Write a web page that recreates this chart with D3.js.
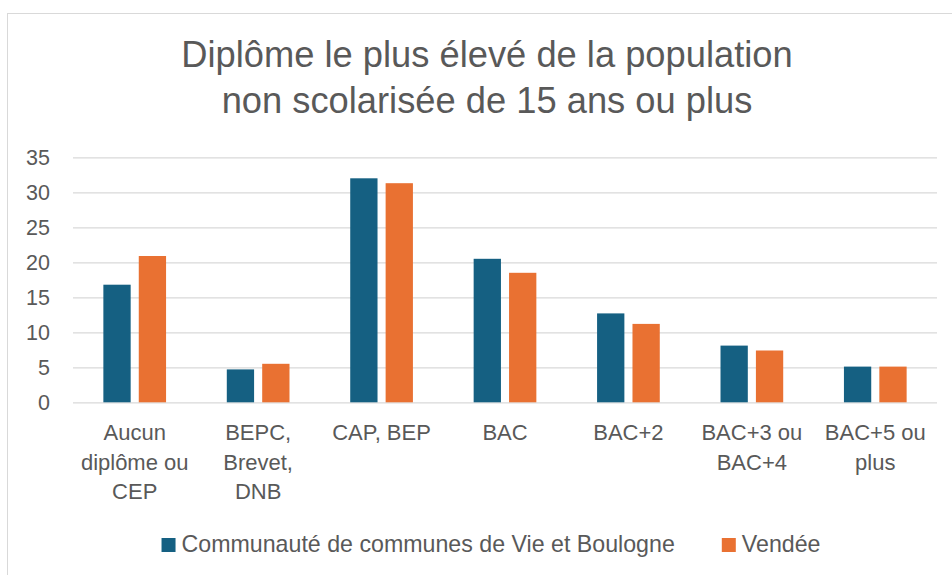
<!DOCTYPE html>
<html><head><meta charset="utf-8">
<script src="https://cdn.jsdelivr.net/npm/d3@7"></script>
<style>
html,body{margin:0;padding:0;background:#fff;}
svg{display:block;font-family:"Liberation Sans",Arial,sans-serif;}
</style></head>
<body><svg id="c" width="952" height="575"></svg>
<script>
const titleLines = ["Diplôme le plus élevé de la population", "non scolarisée de 15 ans ou plus"];
const categories = ["Aucun diplôme ou CEP", "BEPC, Brevet, DNB", "CAP, BEP", "BAC", "BAC+2", "BAC+3 ou BAC+4", "BAC+5 ou plus"];
const seriesNames = ["Communauté de communes de Vie et Boulogne", "Vendée"];
const valuesCC = [16.8, 4.7, 32.0, 20.5, 12.7, 8.1, 5.1];
const valuesVendee = [20.9, 5.5, 31.3, 18.5, 11.2, 7.4, 5.1];
const yTicks = [0, 5, 10, 15, 20, 25, 30, 35];
const colors = ["#156082", "#E97132"];

const svg = d3.select("#c");
const textColor = "#595959";

// chart border
svg.append("rect").attr("x", 7.5).attr("y", 13.5).attr("width", 960).attr("height", 600)
  .attr("fill", "#fff").attr("stroke", "#d9d9d9").attr("stroke-width", 1);

// title
svg.append("g").selectAll("text").data(titleLines).join("text")
  .attr("x", 487).attr("y", (d, i) => 67.3 + i * 45.3)
  .attr("text-anchor", "middle").attr("fill", textColor)
  .style("font-size", "36.3px").text(d => d);

const x0 = d3.scaleBand().domain(categories).range([73, 937]).paddingInner(0).paddingOuter(0);
const groupW = 62.7;
const x1 = d3.scaleBand().domain([0, 1]).range([0, groupW]).paddingInner(0.229).paddingOuter(0);
const y = d3.scaleLinear().domain([0, 35]).range([402.3, 157.3]);

// gridlines
const yAxis = d3.axisLeft(y).tickValues(yTicks).tickSize(-(937 - 73)).tickFormat(d3.format("d"));
const ga = svg.append("g").attr("transform", "translate(73,0)").call(yAxis);
ga.select(".domain").remove();
ga.selectAll(".tick line").attr("stroke", "#d9d9d9").attr("stroke-width", 1.3);
ga.selectAll(".tick text").attr("x", -23).attr("fill", textColor)
  .style("font-size", "21.5px").style("font-family", "Liberation Sans, Arial, sans-serif");

// bars
const data = categories.map((c, i) => ({c, v: [valuesCC[i], valuesVendee[i]]}));
const groups = svg.append("g").selectAll("g").data(data).join("g")
  .attr("transform", d => `translate(${x0(d.c) + (x0.bandwidth() - groupW) / 2},0)`);
groups.selectAll("rect").data(d => d.v.map((v, s) => ({v, s}))).join("rect")
  .attr("x", d => x1(d.s)).attr("width", x1.bandwidth())
  .attr("y", d => y(d.v)).attr("height", d => y(0) - y(d.v))
  .attr("fill", d => colors[d.s]);

// category labels with wrapping
const labelSize = 22;
const measure = svg.append("text").style("font-size", labelSize + "px").attr("visibility", "hidden");
function wrap(str, maxW) {
  const words = str.split(" ");
  const lines = [];
  let cur = "";
  for (const w of words) {
    const test = cur ? cur + " " + w : w;
    measure.text(test);
    if (cur && measure.node().getComputedTextLength() > maxW) { lines.push(cur); cur = w; }
    else cur = test;
  }
  if (cur) lines.push(cur);
  return lines;
}
const xAxisG = svg.append("g");
categories.forEach(c => {
  const lines = wrap(c, 112);
  const t = xAxisG.append("text").attr("text-anchor", "middle").attr("fill", textColor)
    .style("font-size", labelSize + "px");
  lines.forEach((l, i) => t.append("tspan").attr("x", x0(c) + x0.bandwidth() / 2).attr("y", 440 + i * 29.5).text(l));
});

// legend
const legendSize = 23.2;
const lg = svg.append("g");
const items = seriesNames.map((n, i) => {
  measure.style("font-size", legendSize + "px").text(n);
  return {n, i, w: measure.node().getComputedTextLength()};
});
const sq = 14, gapT = 6, gapItem = 47;
const totalW = items.reduce((a, d) => a + sq + gapT + d.w, 0) + gapItem * (items.length - 1);
let lx = 491 - totalW / 2;
items.forEach(d => {
  lg.append("rect").attr("x", lx).attr("y", 538).attr("width", sq).attr("height", sq).attr("fill", colors[d.i]);
  lg.append("text").attr("x", lx + sq + gapT).attr("y", 551.7).attr("fill", textColor)
    .style("font-size", legendSize + "px").text(d.n);
  lx += sq + gapT + d.w + gapItem;
});
measure.remove();
</script></body></html>
